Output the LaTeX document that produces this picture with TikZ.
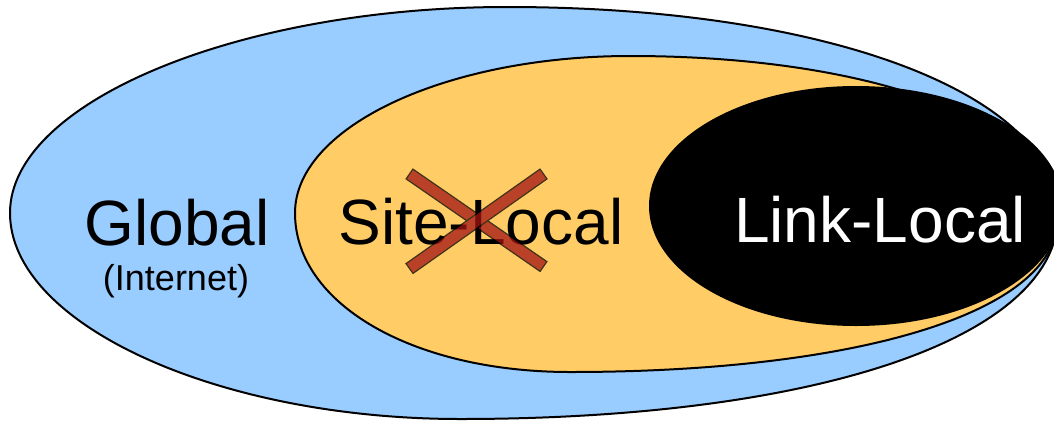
\documentclass[tikz,border=0pt]{standalone}
\usepackage{fontspec}
\setmainfont{Liberation Sans}
\definecolor{globalblue}{RGB}{153,204,255}
\definecolor{siteorange}{RGB}{255,204,102}
\definecolor{crossred}{RGB}{162,19,19}
\tikzset{
  zone/.style={draw=black, line width=2pt},
  bigtext/.style={anchor=base, inner sep=0pt, font=\fontsize{64}{70}\selectfont},
  smalltext/.style={anchor=base, inner sep=0pt, font=\fontsize{36}{42}\selectfont},
  crossbar/.style={fill=crossred, draw=black, line width=1.2pt, line join=miter}
}
\begin{document}
\begin{tikzpicture}[x=1pt, y=-1pt]
\useasboundingbox (0,0) rectangle (1054,421);
\clip (0,0) rectangle (1054,421);
% Global (outer)
\draw[zone, fill=globalblue]
  (10,213) .. controls (10,102) and (239,7) .. (507,7)
  .. controls (827,7) and (1058,94) .. (1058,215)
  .. controls (1058,337) and (819,419) .. (460,419)
  .. controls (217,419) and (10,324) .. (10,213) -- cycle;
% Site-local
\draw[zone, fill=siteorange]
  (295,213) .. controls (295,127) and (446,56) .. (630,56)
  .. controls (878,56) and (1057,125) .. (1057,220)
  .. controls (1057,311) and (862,372) .. (570,372)
  .. controls (413,372) and (295,304) .. (295,213) -- cycle;
% Link-local
\draw[zone, fill=black] (856,206) ellipse [x radius=206, y radius=119];
% labels
\node[bigtext] (global) at (177,245) {Global};
\node[smalltext] (internet) at (176,290) {(Internet)};
\node[bigtext] (site) at (481,244) {Site-Local};
\node[bigtext, text=white] (link) at (880,242) {Link-Local};
% cross
\begin{scope}[transparency group, opacity=0.75]
\draw[crossbar] (406.1,178.9) -- (412.9,169.1) -- (546.9,261.6) -- (540.1,271.4) -- cycle;
\draw[crossbar] (406.0,263.6) -- (413.0,273.4) -- (547.0,178.9) -- (540.0,169.1) -- cycle;
\end{scope}
\end{tikzpicture}
\end{document}
